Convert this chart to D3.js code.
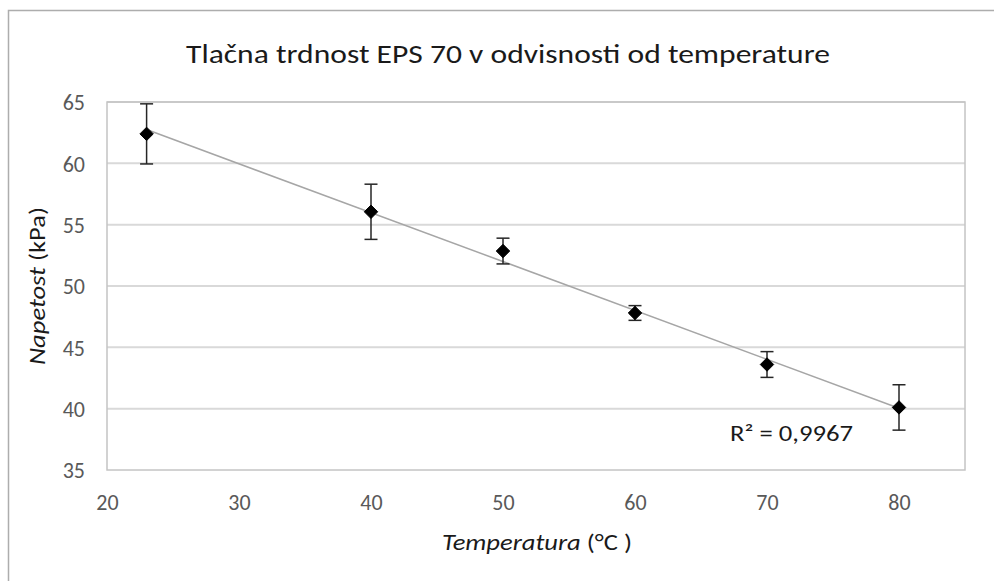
<!DOCTYPE html>
<html>
<head>
<meta charset="utf-8">
<script src="https://cdn.jsdelivr.net/npm/d3@7"></script>
<style>
  html, body { margin: 0; padding: 0; background: #fff; }
  svg { display: block; font-family: Carlito, Lato, "Open Sans", sans-serif; }
</style>
</head>
<body>
<svg id="chart" width="994" height="581"></svg>
<script>
// ---- data ----
const temperatures = [23, 40, 50, 60, 70, 80];          // °C
const stress = [62.4, 56.05, 52.85, 47.8, 43.6, 40.1];    // kPa
const stressErr = [2.45, 2.25, 1.05, 0.6, 1.05, 1.85];    // ± kPa
const xTicks = [20, 30, 40, 50, 60, 70, 80];
const yTicks = [35, 40, 45, 50, 55, 60, 65];
const titleText = "Tlačna trdnost EPS 70 v odvisnosti od temperature";
const r2Text = "R² = 0,9967";

// ---- layout ----
const W = 994, H = 581;
const plot = { left: 107, right: 965, top: 102, bottom: 470 };
const svg = d3.select("#chart");

const x = d3.scaleLinear().domain([20, 85]).range([plot.left, plot.right]);
const y = d3.scaleLinear().domain([35, 65]).range([plot.bottom, plot.top]);

// outer chart border
svg.append("path")
  .attr("d", `M8.5,${H + 2} V10.5 H${W + 2}`)
  .attr("fill", "none").attr("stroke", "#adadad").attr("stroke-width", 1.5);

// title
svg.append("text")
  .attr("x", 508).attr("y", 63)
  .attr("text-anchor", "middle")
  .attr("font-size", 27).attr("font-weight", 300).attr("fill", "#1a1a1a")
  .attr("textLength", 644).attr("lengthAdjust", "spacingAndGlyphs")
  .text(titleText);

// gridlines
svg.append("g").selectAll("line").data(yTicks.filter(d => d > 35)).join("line")
  .attr("x1", plot.left).attr("x2", plot.right)
  .attr("y1", d => y(d)).attr("y2", d => y(d))
  .attr("stroke", "#d9d9d9").attr("stroke-width", 2);

// plot border
svg.append("rect")
  .attr("x", plot.left).attr("y", plot.top)
  .attr("width", plot.right - plot.left).attr("height", plot.bottom - plot.top)
  .attr("fill", "none").attr("stroke", "#c4c4c4").attr("stroke-width", 1.5);

// axes (labels only)
const xAxis = d3.axisBottom(x).tickValues(xTicks).tickSize(0).tickPadding(0);
const gx = svg.append("g").attr("transform", `translate(0,${plot.bottom})`).call(xAxis);
gx.select(".domain").remove();
gx.selectAll("text").attr("font-size", 22).attr("fill", "#595959")
  .attr("font-family", "Carlito, Lato, sans-serif")
  .attr("dy", null).attr("y", 40);

const yAxis = d3.axisLeft(y).tickValues(yTicks).tickSize(0).tickPadding(22);
const gy = svg.append("g").attr("transform", `translate(${plot.left},0)`).call(yAxis);
gy.select(".domain").remove();
gy.selectAll("text").attr("font-size", 22).attr("fill", "#595959")
  .attr("font-family", "Carlito, Lato, sans-serif")
  .attr("dy", "0.35em");

// axis titles
const yt = svg.append("text")
  .attr("transform", `translate(45,286) rotate(-90)`)
  .attr("text-anchor", "middle")
  .attr("font-size", 22).attr("fill", "#1a1a1a")
  .attr("textLength", 158).attr("lengthAdjust", "spacingAndGlyphs");
yt.append("tspan").attr("font-style", "italic").text("Napetost");
yt.append("tspan").text(" (kPa)");

const xt = svg.append("text")
  .attr("x", 537).attr("y", 550)
  .attr("text-anchor", "middle")
  .attr("font-size", 22).attr("fill", "#1a1a1a")
  .attr("textLength", 190).attr("lengthAdjust", "spacingAndGlyphs");
xt.append("tspan").attr("font-style", "italic").text("Temperatura");
xt.append("tspan").text(" (°C )");

// linear trendline (least squares of the data)
const mx = d3.mean(temperatures), my = d3.mean(stress);
const sxy = d3.sum(temperatures, (t, i) => (t - mx) * (stress[i] - my));
const sxx = d3.sum(temperatures, t => (t - mx) ** 2);
const slope = sxy / sxx, intercept = my - slope * mx;
const xMin = d3.min(temperatures), xMax = d3.max(temperatures);
svg.append("line")
  .attr("x1", x(xMin)).attr("y1", y(intercept + slope * xMin))
  .attr("x2", x(xMax)).attr("y2", y(intercept + slope * xMax))
  .attr("stroke", "#a6a6a6").attr("stroke-width", 1.5);

// error bars
const eb = svg.append("g").attr("stroke", "#262626").attr("stroke-width", 1.5);
const cap = 6.5;
temperatures.forEach((t, i) => {
  const cx = x(t), top = y(stress[i] + stressErr[i]), bot = y(stress[i] - stressErr[i]);
  eb.append("line").attr("x1", cx).attr("x2", cx).attr("y1", top).attr("y2", bot);
  eb.append("line").attr("x1", cx - cap).attr("x2", cx + cap).attr("y1", top).attr("y2", top);
  eb.append("line").attr("x1", cx - cap).attr("x2", cx + cap).attr("y1", bot).attr("y2", bot);
});

// markers
svg.append("g").selectAll("path").data(temperatures).join("path")
  .attr("d", d3.symbol().type(d3.symbolDiamond2).size(115))
  .attr("transform", (t, i) => `translate(${x(t)},${y(stress[i])})`)
  .attr("fill", "#000").attr("stroke", "#000").attr("stroke-width", 1).attr("stroke-linejoin", "round");

// R² label
svg.append("text")
  .attr("x", 730).attr("y", 441)
  .attr("font-size", 22).attr("fill", "#1a1a1a")
  .attr("textLength", 123).attr("lengthAdjust", "spacingAndGlyphs")
  .text(r2Text);
</script>
</body>
</html>
